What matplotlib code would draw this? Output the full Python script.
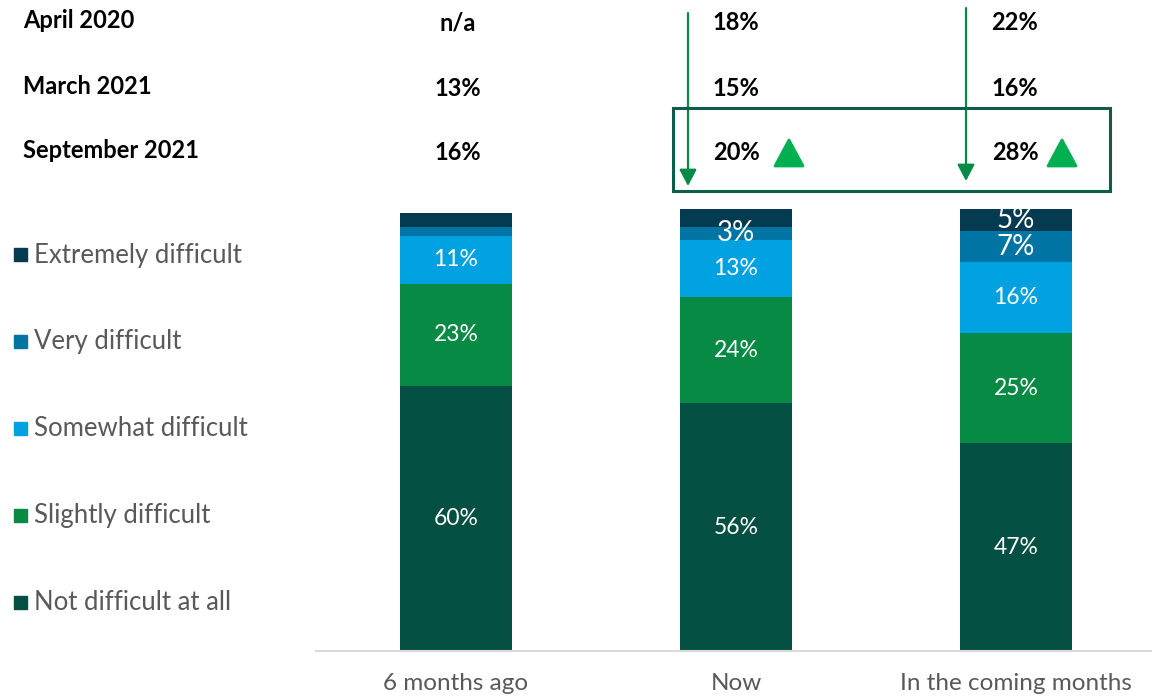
import matplotlib
matplotlib.use("Agg")
import matplotlib.pyplot as plt
from matplotlib.patches import Rectangle, Polygon, FancyArrowPatch
import numpy as np

plt.rcParams['font.family'] = ['Lato', 'DejaVu Sans']

categories = ["6 months ago", "Now", "In the coming months"]
levels = ["Not difficult at all", "Slightly difficult", "Somewhat difficult",
          "Very difficult", "Extremely difficult"]
not_difficult = [60, 56, 47]
slightly = [23, 24, 25]
somewhat = [11, 13, 16]
very = [2, 3, 7]
extremely = [3, 4, 5]
series = [not_difficult, slightly, somewhat, very, extremely]
colors = ["#034f41", "#068a44", "#00a1e0", "#0074a3", "#043b50"]
# which segments carry a value label
show_label = [[True, True, True], [True, True, True], [True, True, True],
              [False, True, True], [False, False, True]]

wave_names = ["April 2020", "March 2021", "September 2021"]
wave_values = [["n/a", "18%", "22%"],
               ["13%", "15%", "16%"],
               ["16%", "20%", "28%"]]

W, H = 1152, 699
fig = plt.figure(figsize=(W / 100, H / 100), dpi=100)


def fx(px):
    return px / W


def fy(py):
    return 1 - py / H


ax = fig.add_axes([fx(316), fy(651), fx(840), (651 - 209) / H])
x = np.arange(len(categories))
bottom = np.zeros(len(categories))
for i, vals in enumerate(series):
    vals = np.array(vals, dtype=float)
    ax.bar(x, vals, width=0.4, bottom=bottom, color=colors[i], zorder=2)
    for j in range(len(categories)):
        if show_label[i][j]:
            size = 16.5 if vals[j] >= 10 else 20
            ax.text(x[j], bottom[j] + vals[j] / 2, f"{int(vals[j])}%",
                    ha="center", va="center", color="white", fontsize=size)
    bottom += vals

ax.set_xlim(-0.5, 2.5)
ax.set_ylim(0, 100)
ax.set_yticks([])
ax.set_xticks(x)
ax.set_xticklabels(categories, fontsize=17.5, color="#595959")
ax.tick_params(axis="x", length=0, pad=16)
for s in ["top", "right", "left"]:
    ax.spines[s].set_visible(False)
ax.spines["bottom"].set_color("#d9d9d9")
ax.spines["bottom"].set_linewidth(1.5)

# legend, top item is the highest segment
legend_y = [255, 342, 429, 516, 603]
for k, name in enumerate(reversed(levels)):
    col = colors[len(levels) - 1 - k]
    fig.patches.append(Rectangle((fx(14), fy(legend_y[k] + 6)), fx(13), 13 / H,
                                 transform=fig.transFigure, color=col))
    fig.text(fx(34), fy(legend_y[k]), name, fontsize=18.5, color="#595959",
             va="center", ha="left")

# tracking table above the bars
row_y = [21, 86, 150]
col_x = [458, 736, 1015]
for r, name in enumerate(wave_names):
    fig.text(fx(23), fy(row_y[r]), name, fontsize=17, fontweight="bold",
             va="center", ha="left", color="black")
    for c in range(3):
        fig.text(fx(col_x[c]), fy(row_y[r] + 2), wave_values[r][c], fontsize=17,
                 fontweight="bold", va="center", ha="center", color="black")

# highlight box around latest wave
fig.patches.append(Rectangle((fx(673), fy(191)), fx(1110 - 673), (191 - 108) / H,
                             transform=fig.transFigure, fill=False,
                             edgecolor="#0e5c4a", linewidth=2.2))

# arrows from first wave down to latest
for ax_px, y0, y1 in [(688, 13, 186), (966, 8, 181)]:
    fig.add_artist(FancyArrowPatch(
        (fx(ax_px), fy(y0)), (fx(ax_px), fy(y1)), transform=fig.transFigure,
        arrowstyle="-|>,head_length=4,head_width=2.1", color="#068a44",
        linewidth=1.6, mutation_scale=2.5, shrinkA=0, shrinkB=0))

# significance up-triangles
for cx in [789, 1062]:
    tri = Polygon([(fx(cx - 14), fy(166)), (fx(cx + 14), fy(166)), (fx(cx), fy(140))],
                  closed=True, transform=fig.transFigure, color="#00b050",
                  joinstyle="round", linewidth=2)
    fig.patches.append(tri)

fig.savefig("out.png", dpi=100)
